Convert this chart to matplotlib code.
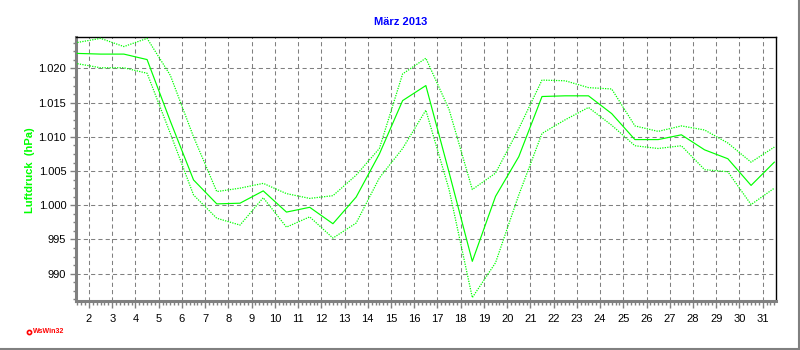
import numpy as np
import matplotlib
matplotlib.use("Agg")
import matplotlib.pyplot as plt
from matplotlib.ticker import MultipleLocator, FuncFormatter
from matplotlib.lines import Line2D

plt.rcParams['font.family'] = ['Liberation Sans', 'DejaVu Sans']

# daily values for March 2013, plotted at the middle of each day
days = np.arange(1, 32)
mean_p = [1022.2, 1022.1, 1022.1, 1021.3, 1012.3, 1003.7, 1000.2, 1000.3, 1002.1, 999.0,
          999.7, 997.3, 1001.2, 1007.5, 1015.3, 1017.5, 1004.8, 991.8, 1001.3, 1007.1,
          1015.9, 1016.0, 1016.0, 1013.4, 1009.6, 1009.6, 1010.3, 1008.1, 1006.8, 1002.9,
          1006.3]
max_p = [1023.8, 1024.4, 1023.2, 1024.4, 1019.0, 1010.0, 1002.0, 1002.5, 1003.2, 1001.7,
         1001.0, 1001.4, 1004.4, 1008.3, 1019.2, 1021.5, 1014.0, 1002.3, 1004.7, 1011.2,
         1018.3, 1018.2, 1017.2, 1017.0, 1011.6, 1010.8, 1011.6, 1011.0, 1009.1, 1006.3,
         1008.5]
min_p = [1020.7, 1020.1, 1020.1, 1019.3, 1010.5, 1001.5, 998.1, 997.1, 1001.1, 996.8,
         998.3, 995.2, 997.4, 1004.0, 1008.3, 1013.9, 1002.3, 986.5, 991.6, 1001.5,
         1010.5, 1012.5, 1014.3, 1011.7, 1008.7, 1008.3, 1008.7, 1005.2, 1004.9, 1000.1,
         1002.5]
xticks = list(range(2, 32))

x = days + 0.5
green = '#00ff00'

fig = plt.figure(figsize=(8, 3.5), dpi=100)
ax = fig.add_axes([76/800, 1 - 301/350, (775.7 - 76)/800, (301 - 37)/350])

ax.plot(x, max_p, color=green, lw=0.9, linestyle=(0, (1, 1)), zorder=3)
ax.plot(x, min_p, color=green, lw=0.9, linestyle=(0, (1, 1)), zorder=3)
ax.plot(x, mean_p, color=green, lw=0.85, zorder=4)

ax.set_xlim(1.44, 31.56)
ax.set_ylim(986.0, 1024.6)

ax.set_xticks(xticks)
ax.xaxis.set_minor_locator(MultipleLocator(1/6))
ax.yaxis.set_major_locator(MultipleLocator(5))
ax.yaxis.set_minor_locator(MultipleLocator(1.25))
ax.yaxis.set_major_formatter(FuncFormatter(lambda v, p: f"{v:,.0f}".replace(",", ".")))

ax.grid(True, which='major', color='#808080', lw=0.75, linestyle=(0, (4, 3)), zorder=1)

ax.tick_params(axis='x', which='major', direction='out', length=5, width=1,
               color='#808080', labelsize=8, pad=4)
ax.tick_params(axis='x', which='minor', direction='out', length=3, width=1, color='#808080')
ax.tick_params(axis='y', which='major', direction='out', length=4, width=1,
               color='#808080', labelsize=8, pad=3)
ax.tick_params(axis='y', which='minor', direction='out', length=2, width=1, color='#808080')

for s in ['left', 'bottom']:
    ax.spines[s].set_color('#808080')
    ax.spines[s].set_linewidth(2.2)
for s in ['top', 'right']:
    ax.spines[s].set_color('black')
    ax.spines[s].set_linewidth(1.0)

fig.text(30/800, 1 - 170/350, 'Luftdruck  (hPa)', rotation=90, color=green,
         fontsize=8, fontweight='bold', ha='center', va='center')
fig.text(401/800, 1 - 22/350, 'März 2013', color='#0000ff', fontsize=8,
         fontweight='bold', ha='center', va='center')

# WsWin32 signature
fig.add_artist(Line2D([29.3/800], [1 - 331.7/350], marker='o', markersize=3,
                      markerfacecolor='white', markeredgecolor='red', markeredgewidth=1.2))
fig.text(33/800, 1 - 331.7/350, 'WsWin32', color='red', fontsize=5,
         fontweight='bold', ha='left', va='center')

# frame edge
fig.add_artist(Line2D([0, 798.5/800], [1.5/350, 1.5/350], color='#808080', lw=1.5))
fig.add_artist(Line2D([798.5/800, 798.5/800], [0, 1], color='#808080', lw=1.5))

fig.savefig('out.png', dpi=100)
